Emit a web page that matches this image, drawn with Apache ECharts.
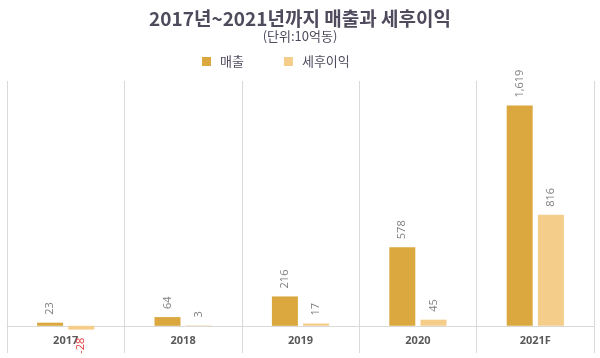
<!DOCTYPE html>
<html><head><meta charset="utf-8">
<script src="https://cdn.jsdelivr.net/npm/echarts@6/dist/echarts.min.js"></script>
<style>html,body{margin:0;padding:0;background:#fff}#c{width:600px;height:358px}</style>
</head><body><div id="c"></div>
<script>
const categories = ['2017', '2018', '2019', '2020', '2021F'];
const revenue = [23, 64, 216, 578, 1619];
const netProfit = [-28, 3, 17, 45, 816];
const seriesNames = ['매출', '세후이익'];

const chart = echarts.init(document.getElementById('c'));
const lbl = {
  show: true, position: 'top', rotate: 90, align: 'left', verticalAlign: 'middle',
  distance: 8, color: '#7f7f7f', fontSize: 11, fontFamily: 'Open Sans',
  formatter: p => p.value.toLocaleString('en-US')
};
const yMin = -200, yMax = 1800;
const gridTop = 81, gridBottom = 5, H = 358;
const plotH = H - gridTop - gridBottom;
const zeroOffset = -plotH * (0 - yMin) / (yMax - yMin);
chart.setOption({
  animation: false,
  title: {
    text: '2017년~2021년까지 매출과 세후이익',
    subtext: '(단위:10억동)',
    left: 'center', top: 4, itemGap: 2,
    textStyle: { fontFamily: 'Noto Sans CJK KR', fontWeight: 'bold', fontSize: 19, color: '#4f4a5c' },
    subtextStyle: { fontFamily: 'Noto Sans CJK KR', fontSize: 13, color: '#4f4a5c' }
  },
  legend: {
    top: 50, left: 197, itemWidth: 9, itemHeight: 9, itemGap: 40, icon: 'rect',
    textStyle: { fontFamily: 'Noto Sans CJK KR', fontSize: 13, color: '#4f4a5c', padding: [0, 0, 0, 4] },
    data: seriesNames
  },
  grid: { left: 7, right: 6, top: gridTop, bottom: gridBottom, outerBoundsMode: 'none', containLabel: false },
  xAxis: {
    type: 'category', data: categories, offset: zeroOffset,
    axisLine: { onZero: false, lineStyle: { color: '#d9d9d9' } },
    axisTick: { show: false },
    axisLabel: { color: '#595959', fontWeight: 'bold', fontSize: 11, fontFamily: 'Open Sans', margin: 10 },
    splitLine: { show: true, lineStyle: { color: '#d9d9d9' } }
  },
  yAxis: {
    type: 'value', min: yMin, max: yMax, show: false, splitLine: { show: false }
  },
  series: [
    { name: seriesNames[0], type: 'bar', data: revenue, barWidth: 26, barGap: '20%',
      itemStyle: { color: '#daa83e' }, label: lbl },
    { name: seriesNames[1], type: 'bar', barWidth: 26,
      data: netProfit.map(v => v < 0 ? { value: v, label: { position: 'bottom', align: 'right', color: '#e03c3c' } } : v),
      itemStyle: { color: '#f5cd8b' }, label: lbl }
  ]
});
</script></body></html>
